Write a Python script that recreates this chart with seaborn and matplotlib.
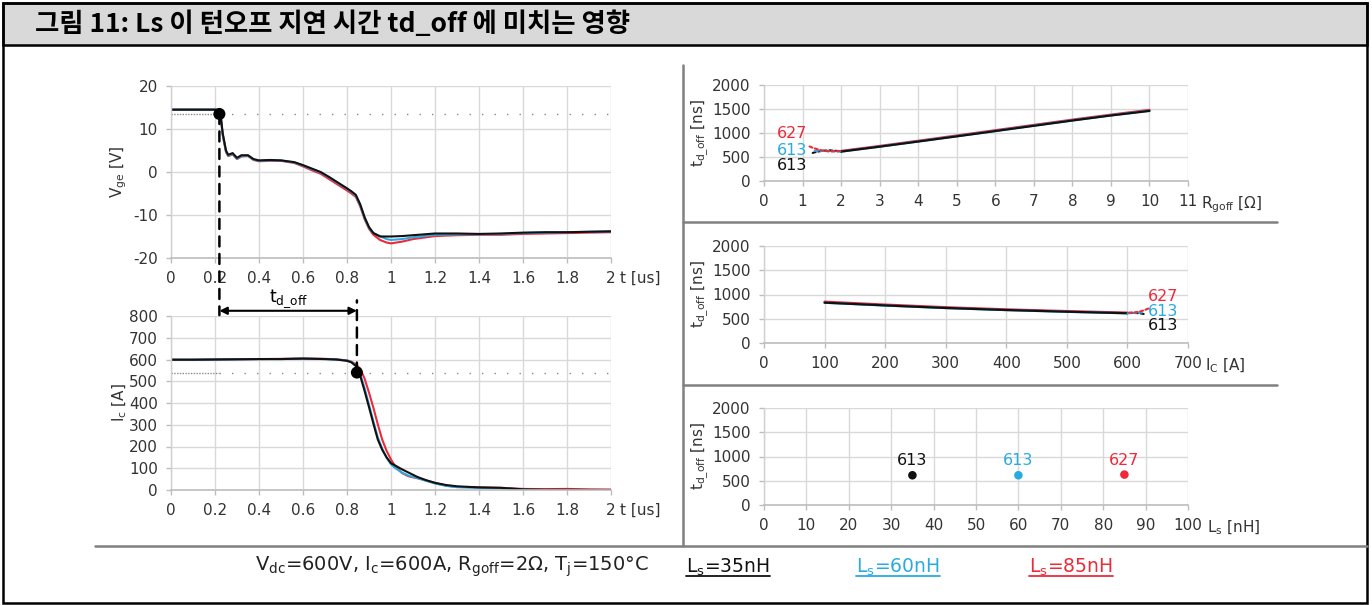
import numpy as np
import pandas as pd
import matplotlib
matplotlib.use("Agg")
import matplotlib.pyplot as plt
import seaborn as sns
from matplotlib.patches import Rectangle, FancyArrowPatch, ConnectionPatch
from matplotlib.lines import Line2D
from matplotlib.ticker import FuncFormatter
from matplotlib.transforms import blended_transform_factory

# ---------------- data ----------------
ls_names = ["35nH", "60nH", "85nH"]
ls_colors = ["#111111", "#29ABE2", "#EE2A3A"]

t_vge = [0, 0.1, 0.2, 0.215, 0.225, 0.235, 0.25, 0.26, 0.28, 0.30, 0.32, 0.35, 0.375,
         0.40, 0.45, 0.50, 0.56, 0.60, 0.65, 0.68, 0.72, 0.76, 0.80, 0.82, 0.84, 0.86,
         0.88, 0.90, 0.92, 0.95, 0.98, 1.00, 1.05, 1.10, 1.20, 1.30, 1.40, 1.50, 1.60,
         1.70, 1.80, 1.90, 2.00]
vge_35 = [14.5, 14.5, 14.5, 14.4, 13.5, 9.0, 5.0, 4.0, 4.4, 3.3, 3.9, 3.9, 3.0,
          2.7, 2.8, 2.7, 2.3, 1.6, 0.6, 0.0, -1.2, -2.5, -3.8, -4.5, -5.3, -7.5,
          -10.5, -12.8, -14.2, -15.0, -15.0, -15.0, -14.9, -14.7, -14.3, -14.3, -14.4, -14.3, -14.1,
          -14.0, -14.0, -13.9, -13.8]
vge_60 = [14.5, 14.5, 14.5, 14.4, 13.4, 8.8, 4.8, 3.8, 4.2, 3.1, 3.7, 3.8, 2.9,
          2.6, 2.7, 2.7, 2.2, 1.5, 0.5, -0.1, -1.3, -2.6, -3.9, -4.6, -5.5, -7.7,
          -10.7, -13.0, -14.2, -14.9, -15.6, -15.8, -15.6, -15.2, -14.6, -14.5, -14.5, -14.4, -14.2,
          -14.1, -14.0, -13.9, -13.8]
vge_85 = [14.5, 14.5, 14.5, 14.4, 13.3, 8.6, 4.6, 3.7, 4.1, 3.0, 3.6, 3.7, 2.8,
          2.5, 2.6, 2.6, 2.1, 1.3, 0.2, -0.4, -1.7, -3.0, -4.3, -5.0, -5.8, -8.0,
          -11.0, -13.2, -14.6, -15.8, -16.4, -16.6, -16.2, -15.6, -14.9, -14.7, -14.6, -14.6, -14.4,
          -14.3, -14.2, -14.1, -14.0]

t_ic = [0, 0.1, 0.2, 0.3, 0.4, 0.5, 0.6, 0.7, 0.75, 0.8, 0.82, 0.84, 0.86, 0.88, 0.90,
        0.92, 0.94, 0.96, 0.98, 1.00, 1.02, 1.05, 1.08, 1.12, 1.16, 1.20, 1.25, 1.30,
        1.40, 1.50, 1.60, 1.70, 1.80, 1.90, 2.00]
ic_35 = [599, 599, 600, 601, 602, 602, 604, 602, 600, 594, 587, 570, 525, 455, 381,
         305, 232, 185, 150, 123, 112, 95, 80, 60, 45, 33, 23, 17,
         12, 10, 3, 1, 1, 0, 0]
ic_60 = [599, 599, 600, 601, 602, 602, 604, 602, 600, 595, 588, 572, 535, 468, 392,
         315, 242, 190, 148, 118, 100, 80, 66, 55, 42, 30, 19, 13,
         10, 8, 2, 0, 0, 0, 0]
ic_85 = [599, 599, 600, 601, 602, 603, 605, 603, 601, 596, 590, 578, 558, 512, 448,
         378, 302, 232, 180, 140, 108, 78, 63, 54, 44, 32, 20, 14,
         12, 10, 5, 4, 5, 3, 2]

vge_threshold = 13.5
ic_threshold = 540
td_start = 0.22
td_end = 0.845

rgoff = [2, 3, 4, 5, 6, 7, 8, 9, 10]
td_rg_35 = [613, 715, 822, 930, 1040, 1150, 1260, 1365, 1460]
td_rg_60 = [613, 717, 825, 933, 1043, 1153, 1263, 1368, 1465]
td_rg_85 = [627, 730, 838, 948, 1058, 1168, 1278, 1382, 1482]

ic_vals = [100, 200, 300, 400, 500, 600]
td_ic_35 = [832, 775, 722, 680, 645, 613]
td_ic_60 = [830, 772, 720, 678, 643, 613]
td_ic_85 = [852, 792, 738, 694, 658, 627]

ls_vals = [35, 60, 85]
td_ls = [613, 613, 627]
td_labels = ["613", "613", "627"]

title = "그림 11: Ls 이 턴오프 지연 시간 td_off 에 미치는 영향"
cond_text = r"V$_{\mathregular{dc}}$=600V, I$_{\mathregular{c}}$=600A, R$_{\mathregular{goff}}$=2Ω, T$_{\mathregular{j}}$=150°C"
legend_texts = [r"L$_{\mathregular{s}}$=35nH", r"L$_{\mathregular{s}}$=60nH", r"L$_{\mathregular{s}}$=85nH"]

# ---------------- style ----------------
sns.set_theme(style="white")
plt.rcParams["font.family"] = ["DejaVu Sans", "Noto Sans CJK KR"]
plt.rcParams["axes.unicode_minus"] = False
plt.rcParams["mathtext.default"] = "regular"

palette = dict(zip(ls_names, ls_colors))
order = ["85nH", "60nH", "35nH"]
TXT = "#333333"
W, H = 1372, 605
fig = plt.figure(figsize=(W / 100, H / 100), dpi=100)


def fx(px):
    return px / W


def fy(py):
    return 1 - py / H


def make_ax(x0, x1, ytop, ybot):
    return fig.add_axes([fx(x0), fy(ybot), fx(x1) - fx(x0), fy(ytop) - fy(ybot)])


def style(ax, xlim, xticks, ylim, yticks, xname, xoff):
    ax.set_xlim(*xlim)
    ax.set_ylim(*ylim)
    ax.set_xticks(xticks)
    ax.set_yticks(yticks)
    ax.set_axisbelow(True)
    ax.grid(True, color="#d9d9d9", lw=1)
    for s in ["top", "right"]:
        ax.spines[s].set_visible(False)
    ax.spines["left"].set_color("#d0d0d0")
    ax.spines["bottom"].set_color("#bdbdbd")
    ax.spines["left"].set_linewidth(1)
    ax.spines["bottom"].set_linewidth(1.2)
    ax.tick_params(axis="both", length=3.5, width=1, color="#bdbdbd",
                   labelsize=11, labelcolor=TXT, pad=6, bottom=True, left=True)
    ax.xaxis.set_major_formatter(FuncFormatter(lambda v, p: f"{v:g}"))
    ax.set_xlabel("")
    ax.set_ylabel("")
    ax.annotate(xname, xy=(1, 0), xycoords="axes fraction", xytext=(xoff, -9.5),
                textcoords="offset points", ha="left", va="top", fontsize=11, color=TXT)


def long_df(x, ys, xname, yname):
    return pd.DataFrame({xname: list(x) * len(ys),
                         yname: [v for y in ys for v in y],
                         "Ls": [n for n, y in zip(ls_names, ys) for _ in y]})


# ---------------- frame ----------------
fig.add_artist(Rectangle((fx(3), fy(45)), fx(1367) - fx(3), fy(3) - fy(45),
                         transform=fig.transFigure, facecolor="#d9d9d9",
                         edgecolor="black", lw=1.8))
fig.add_artist(Rectangle((fx(3), fy(603)), fx(1367) - fx(3), fy(3) - fy(603),
                         transform=fig.transFigure, facecolor="none",
                         edgecolor="black", lw=1.8))
fig.text(fx(35), fy(25), title, fontsize=19, fontweight="bold",
         family=["Noto Sans CJK KR", "DejaVu Sans"], va="center", ha="left", color="black")

sep = "#808080"
fig.add_artist(Line2D([fx(683), fx(683)], [fy(65), fy(546)], color=sep, lw=1.8))
fig.add_artist(Line2D([fx(95), fx(1367)], [fy(546), fy(546)], color=sep, lw=1.8))
fig.add_artist(Line2D([fx(683), fx(1277)], [fy(222), fy(222)], color=sep, lw=1.8))
fig.add_artist(Line2D([fx(683), fx(1277)], [fy(385), fy(385)], color=sep, lw=1.8))

# ---------------- left top: Vge ----------------
ax_v = make_ax(171, 611, 86, 258)
dfv = long_df(t_vge, [vge_35, vge_60, vge_85], "t", "v")
sns.lineplot(data=dfv, x="t", y="v", hue="Ls", hue_order=order, palette=palette,
             estimator=None, legend=False, lw=1.5, ax=ax_v)
ax_v.plot([0, td_start], [vge_threshold] * 2, color="#8a8a8a", lw=1, ls=(0, (1, 1)))
ax_v.plot([td_start, 2], [vge_threshold] * 2, color="#8a8a8a", lw=1, ls=(0, (1, 8)))
sns.scatterplot(x=[td_start], y=[vge_threshold], color="black", s=75, edgecolor="none",
                ax=ax_v, zorder=6)
style(ax_v, (0, 2), np.arange(0, 2.01, 0.2), (-20, 20), [-20, -10, 0, 10, 20], "t [us]", 6.5)
ax_v.set_ylabel(r"V$_{\mathregular{ge}}$ [V]", fontsize=11, color=TXT)
ax_v.yaxis.set_label_coords(-0.095, 0.5)

# ---------------- left bottom: Ic ----------------
ax_i = make_ax(171, 611, 316, 490)
dfi = long_df(t_ic, [ic_35, ic_60, ic_85], "t", "ic")
sns.lineplot(data=dfi, x="t", y="ic", hue="Ls", hue_order=order, palette=palette,
             estimator=None, legend=False, lw=1.5, ax=ax_i)
ax_i.plot([0, td_start], [ic_threshold] * 2, color="#8a8a8a", lw=1, ls=(0, (1, 1)))
ax_i.plot([td_start, 2], [ic_threshold] * 2, color="#8a8a8a", lw=1, ls=(0, (1, 8)))
sns.scatterplot(x=[td_end], y=[ic_threshold], color="black", s=75, edgecolor="none",
                ax=ax_i, zorder=6)
style(ax_i, (0, 2), np.arange(0, 2.01, 0.2), (0, 800), np.arange(0, 801, 100), "t [us]", 6.5)
ax_i.set_ylabel(r"I$_{\mathregular{c}}$ [A]", fontsize=11, color=TXT)
ax_i.yaxis.set_label_coords(-0.095, 0.5)

# td_off construction
blend = blended_transform_factory(ax_i.transData, ax_i.transAxes)
dash = dict(color="black", lw=1.8, ls=(0, (4, 3)))
fig.add_artist(ConnectionPatch(xyA=(td_start, vge_threshold), coordsA=ax_v.transData,
                               xyB=(td_start, 1.005), coordsB=blend, **dash))
fig.add_artist(ConnectionPatch(xyA=(td_end, ic_threshold), coordsA=ax_i.transData,
                               xyB=(td_end, 1.09), coordsB=blend, **dash))
arr = FancyArrowPatch((td_start, 1.03), (td_end, 1.03), transform=blend,
                      arrowstyle="<|-|>", mutation_scale=11, color="black", lw=1.5,
                      shrinkA=0, shrinkB=0)
arr.set_clip_on(False)
ax_i.add_patch(arr)
ax_i.text((td_start + td_end) / 2, 1.1, r"t$_{\mathregular{d\_off}}$", transform=blend,
          ha="center", va="center", fontsize=12.5, color="black")

# ---------------- right panels ----------------
ylab = r"t$_{\mathregular{d\_off}}$ [ns]"

ax_r = make_ax(764, 1188, 85, 181)
dfr = long_df(rgoff, [td_rg_35, td_rg_60, td_rg_85], "r", "td")
sns.lineplot(data=dfr, x="r", y="td", hue="Ls", hue_order=order, palette=palette,
             estimator=None, legend=False, lw=1.6, ax=ax_r)
style(ax_r, (0, 11), range(0, 12), (0, 2000), range(0, 2001, 500),
      r"R$_{\mathregular{goff}}$ [Ω]", 9.5)
ax_r.set_ylabel(ylab, fontsize=11, color=TXT)
ax_r.yaxis.set_label_coords(-0.126, 0.5)

ax_c = make_ax(764, 1188, 246, 343)
dfc = long_df(ic_vals, [td_ic_35, td_ic_60, td_ic_85], "ic", "td")
sns.lineplot(data=dfc, x="ic", y="td", hue="Ls", hue_order=order, palette=palette,
             estimator=None, legend=False, lw=1.6, ax=ax_c)
style(ax_c, (0, 700), range(0, 701, 100), (0, 2000), range(0, 2001, 500),
      r"I$_{\mathregular{C}}$ [A]", 12)
ax_c.set_ylabel(ylab, fontsize=11, color=TXT)
ax_c.yaxis.set_label_coords(-0.126, 0.5)

ax_l = make_ax(764, 1188, 408, 505)
dfl = pd.DataFrame({"ls": ls_vals, "td": td_ls, "Ls": ls_names})
sns.scatterplot(data=dfl, x="ls", y="td", hue="Ls", palette=palette, s=38,
                edgecolor="none", legend=False, ax=ax_l, zorder=5)
style(ax_l, (0, 100), range(0, 101, 10), (0, 2000), range(0, 2001, 500),
      r"L$_{\mathregular{s}}$ [nH]", 14)
ax_l.set_ylabel(ylab, fontsize=11, color=TXT)
ax_l.yaxis.set_label_coords(-0.126, 0.5)
for x, y, lab, c in zip(ls_vals, td_ls, td_labels, ls_colors):
    ax_l.annotate(lab, xy=(x, y), xytext=(0, 5), textcoords="offset points",
                  ha="center", va="bottom", fontsize=11.5, color=c)

# labels with dotted leaders at first point (Rgoff) and last point (Ic)
ann_y_r = [330, 645, 985]   # black, blue, red label heights
ann_y_c = [360, 650, 960]
first_vals = [td_rg_35[0], td_rg_60[0], td_rg_85[0]]
last_vals = [td_ic_35[-1], td_ic_60[-1], td_ic_85[-1]]
rads = [-0.25, 0.0, 0.25]
for lab, c, yv, yl, rad in zip(td_labels, ls_colors, first_vals, ann_y_r, rads):
    ax_r.annotate(lab, xy=(rgoff[0], yv), xytext=(0.73, yl), ha="center", va="center",
                  fontsize=11.5, color=c,
                  arrowprops=dict(arrowstyle="-", ls=(0, (1.5, 1.2)), color=c, lw=1.5,
                                  shrinkA=3, shrinkB=0,
                                  connectionstyle=f"arc3,rad={rad}"))
for lab, c, yv, yl, rad in zip(td_labels, ls_colors, last_vals, ann_y_c, rads):
    ax_c.annotate(lab, xy=(ic_vals[-1], yv), xytext=(634, yl), ha="left", va="center",
                  fontsize=11.5, color=c,
                  arrowprops=dict(arrowstyle="-", ls=(0, (1.5, 1.2)), color=c, lw=1.5,
                                  shrinkA=2, shrinkB=0,
                                  connectionstyle=f"arc3,rad={-rad}"))

# ---------------- bottom legend ----------------
fig.text(fx(255), fy(567), cond_text, fontsize=14, color="#222222", ha="left", va="center")
leg_centers = [728, 898, 1071]
leg_objs = []
for txt, c, xc in zip(legend_texts, ls_colors, leg_centers):
    leg_objs.append(fig.text(fx(xc), fy(567), txt, fontsize=13.5, color=c,
                             ha="center", va="center"))
fig.canvas.draw()
r = fig.canvas.get_renderer()
for t_obj, c in zip(leg_objs, ls_colors):
    bb = t_obj.get_window_extent(r)
    yl = (bb.y0 + 2) / H
    fig.add_artist(Line2D([bb.x0 / W, bb.x1 / W], [yl, yl], color=c, lw=1.3))

fig.savefig("out.png", dpi=100)
